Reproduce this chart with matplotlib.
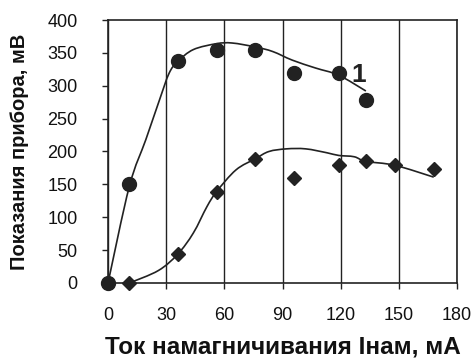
import numpy as np
import matplotlib
matplotlib.use("Agg")
import matplotlib.pyplot as plt
from matplotlib.path import Path
from matplotlib.patches import PathPatch

plt.rcParams['font.family'] = ['Liberation Sans', 'DejaVu Sans']

# measured points
x1 = [0, 11, 36, 56, 76, 96, 119, 133]
y1 = [0, 150, 338, 355, 355, 319, 320, 278]

x2 = [0, 11, 36, 56, 76, 96, 119, 133, 148, 168]
y2 = [0, 0, 44, 139, 189, 160, 180, 185, 180, 173]

# hand-drawn smooth curves (knots)
cx1 = [0, 11, 19.5, 26.5, 31.5, 36, 44, 56, 64, 76, 85, 95, 107, 119, 133]
cy1 = [0, 147, 218, 278, 319, 337, 355, 364, 365, 359, 352, 339, 327, 316, 292]

cx2 = [11, 26, 36, 44, 51, 56, 66, 76, 83, 92, 102, 113, 119, 127, 133, 148, 168]
cy2 = [0, 19, 44, 76, 116, 139, 172, 189, 200, 204, 204, 198, 194, 192, 185, 179, 161]

xticks = [0, 30, 60, 90, 120, 150, 180]
yticks = [0, 50, 100, 150, 200, 250, 300, 350, 400]

col = '#222222'


def smooth_path(xs, ys):
    # Catmull-Rom knots turned into cubic Bezier segments
    p = np.column_stack([xs, ys]).astype(float)
    verts = [p[0]]
    codes = [Path.MOVETO]
    n = len(p)
    for i in range(n - 1):
        p0 = p[i - 1] if i > 0 else p[i]
        p1 = p[i]
        p2 = p[i + 1]
        p3 = p[i + 2] if i + 2 < n else p[i + 1]
        verts += [p1 + (p2 - p0) / 6, p2 - (p3 - p1) / 6, p2]
        codes += [Path.CURVE4] * 3
    return Path(verts, codes)


fig = plt.figure(figsize=(4.75, 3.63), dpi=100)
ax = fig.add_axes([0.2274, 0.2204, 0.7347, 0.7245])

ax.add_patch(PathPatch(smooth_path(cx1, cy1), fill=False, ec=col, lw=1.2))
ax.add_patch(PathPatch(smooth_path(cx2, cy2), fill=False, ec=col, lw=1.2))

ax.plot(x2, y2, 'D', color=col, markersize=7, zorder=3)
ax.plot(x1, y1, 'o', color=col, markersize=10, zorder=4)

ax.text(125.5, 316, '1', fontsize=19, fontweight='bold', color=col,
        ha='left', va='center')

ax.set_xlim(0, 180)
ax.set_ylim(0, 400)
ax.set_xticks(xticks)
ax.set_yticks(yticks)
ax.tick_params(direction='out', length=4, width=1, colors=col,
               labelsize=13, labelcolor='#111111')
ax.tick_params(axis='x', pad=13)
ax.tick_params(axis='y', pad=18)
ax.xaxis.grid(True, color=col, lw=1)
for s in ax.spines.values():
    s.set_color(col)
    s.set_linewidth(1.2)
for m in ax.get_lines():
    m.set_clip_on(False)

ax.set_xlabel('Ток намагничивания Iнам, мА', fontsize=17.5, fontweight='bold',
              color='#111111')
ax.set_ylabel('Показания прибора, мВ', fontsize=14.5, fontweight='bold',
              color='#111111')
ax.xaxis.set_label_coords(0.5, -0.2)
ax.yaxis.set_label_coords(-0.227, 0.5)

fig.savefig('out.png', dpi=100)
